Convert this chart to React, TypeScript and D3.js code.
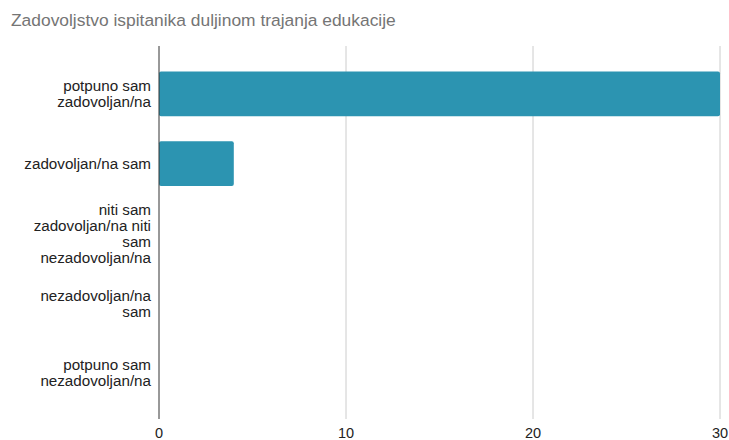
import React from "react";
import * as d3 from "d3";

const title = "Zadovoljstvo ispitanika duljinom trajanja edukacije";
const categories = [
  "potpuno sam zadovoljan/na",
  "zadovoljan/na sam",
  "niti sam zadovoljan/na niti sam nezadovoljan/na",
  "nezadovoljan/na sam",
  "potpuno sam nezadovoljan/na",
];
const values = [30, 4, 0, 0, 0];
const xTicks = [0, 10, 20, 30];

const W = 729;
const H = 440;
const FONT = "Arial, 'Liberation Sans', sans-serif";
const LABEL_SIZE = 15.2;

function measure(text: string, size: number): number {
  const c = document.createElement("canvas");
  const ctx = c.getContext("2d");
  if (!ctx) return text.length * size * 0.5;
  ctx.font = `${size}px Arial, 'Liberation Sans', sans-serif`;
  return ctx.measureText(text).width;
}

function wrap(text: string, maxW: number, size: number): string[] {
  const words = text.split(" ");
  const lines: string[] = [];
  let cur = "";
  for (const w of words) {
    const t = cur ? cur + " " + w : w;
    if (cur && measure(t, size) > maxW) {
      lines.push(cur);
      cur = w;
    } else cur = t;
  }
  if (cur) lines.push(cur);
  return lines;
}

export default function App() {
  const x = d3.scaleLinear().domain([0, 30]).range([159, 720]);
  const y = d3
    .scaleBand<string>()
    .domain(categories)
    .range([59, 408])
    .paddingInner(0.36)
    .paddingOuter(0.18);
  const axisTop = 46;
  const axisBottom = 419;
  const lh = 16;

  return (
    <svg
      width={W}
      height={H}
      style={{ position: "absolute", left: 0, top: 0, background: "#fff" }}
      fontFamily={FONT}
    >
      <text x={11} y={26} fontSize={17.4} fill="#757575">
        {title}
      </text>
      {xTicks.map((t) => (
        <g key={t}>
          {t !== 0 && (
            <line x1={x(t)} x2={x(t)} y1={axisTop} y2={axisBottom} stroke="#cccccc" strokeWidth={1} />
          )}
          <text x={x(t)} y={437.5} fontSize={14.5} fill="#222" textAnchor="middle">
            {t}
          </text>
        </g>
      ))}
      {categories.map((c, i) => {
        const by = y(c)!;
        const bh = y.bandwidth();
        const v = values[i];
        const cy = by + bh / 2;
        const lines = wrap(c, 132, LABEL_SIZE);
        return (
          <g key={c}>
            {v > 0 && (
              <rect
                x={x(0)}
                y={by}
                width={x(v) - x(0)}
                height={bh}
                rx={2}
                ry={2}
                fill="#2c94b1"
              />
            )}
            <text fontSize={LABEL_SIZE} fill="#222" textAnchor="end">
              {lines.map((l, j) => (
                <tspan key={j} x={151} y={cy + (j - (lines.length - 1) / 2) * lh} dy="0.35em">
                  {l}
                </tspan>
              ))}
            </text>
          </g>
        );
      })}
      <line x1={x(0)} x2={x(0)} y1={axisTop} y2={axisBottom} stroke="#333" strokeWidth={1} />
    </svg>
  );
}
